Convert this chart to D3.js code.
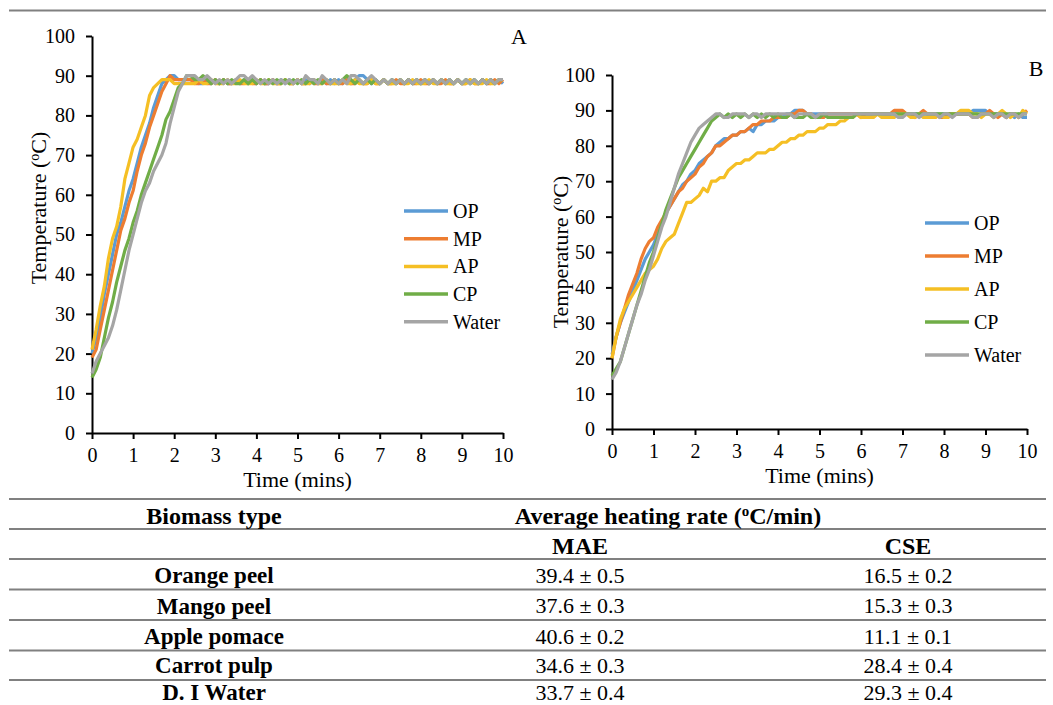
<!DOCTYPE html>
<html>
<head>
<meta charset="utf-8">
<title>Heating profiles MAE / CSE</title>
<script src="https://d3js.org/d3.v7.min.js"></script>
<style>
    body { margin: 0; background: #fff; }
    svg text { font-family: "Liberation Serif", Tinos, "Times New Roman", "Nimbus Roman", "DejaVu Serif", serif; fill: #000; }
</style>
</head>
<body>
<svg width="1053" height="705"></svg>
<script>
// sampling times (mins)
var time = [
    0, 0.1, 0.2, 0.3, 0.4, 0.5, 0.6, 0.7, 0.8, 0.9,
    1, 1.1, 1.2, 1.3, 1.4, 1.5, 1.6, 1.7, 1.8, 1.9,
    2, 2.1, 2.2, 2.3, 2.4, 2.5, 2.6, 2.7, 2.8, 2.9,
    3, 3.1, 3.2, 3.3, 3.4, 3.5, 3.6, 3.7, 3.8, 3.9,
    4, 4.1, 4.2, 4.3, 4.4, 4.5, 4.6, 4.7, 4.8, 4.9,
    5, 5.1, 5.2, 5.3, 5.4, 5.5, 5.6, 5.7, 5.8, 5.9,
    6, 6.1, 6.2, 6.3, 6.4, 6.5, 6.6, 6.7, 6.8, 6.9,
    7, 7.1, 7.2, 7.3, 7.4, 7.5, 7.6, 7.7, 7.8, 7.9,
    8, 8.1, 8.2, 8.3, 8.4, 8.5, 8.6, 8.7, 8.8, 8.9,
    9, 9.1, 9.2, 9.3, 9.4, 9.5, 9.6, 9.7, 9.8, 9.9,
    10];

var seriesNames = ["OP", "MP", "AP", "CP", "Water"];
var seriesColors = ["#5b9bd5", "#ed7d31", "#f5bf24", "#70ad47", "#a5a5a5"];

// panel A (MAE) temperatures, one row per minute
var opA = [20, 24, 29, 35, 40, 45, 50, 53, 57, 61,
    64, 68, 72, 75, 78, 82, 85, 88, 89, 90,
    90, 89, 89, 89, 89, 89, 88, 88, 89, 88,
    89, 88, 89, 88, 88, 89, 88, 89, 88, 89,
    88, 89, 88, 88, 89, 88, 89, 88, 89, 88,
    89, 88, 89, 88, 89, 88, 89, 88, 89, 88,
    89, 88, 89, 88, 89, 90, 90, 89, 88, 89,
    88, 89, 88, 89, 88, 89, 88, 89, 88, 89,
    88, 89, 88, 89, 88, 89, 88, 89, 88, 89,
    88, 89, 88, 89, 88, 89, 88, 89, 88, 89,
    88];
var mpA = [19, 21, 26, 31, 36, 41, 46, 51, 54, 58,
    61, 66, 70, 73, 77, 80, 83, 86, 88, 90,
    89, 89, 89, 89, 89, 88, 88, 89, 88, 88,
    89, 88, 89, 88, 88, 89, 88, 88, 89, 88,
    88, 89, 88, 88, 89, 88, 88, 89, 88, 88,
    89, 88, 88, 89, 88, 88, 89, 88, 88, 89,
    88, 88, 89, 88, 88, 89, 88, 88, 89, 88,
    88, 89, 88, 88, 89, 88, 88, 89, 88, 88,
    89, 88, 88, 89, 88, 88, 89, 88, 88, 89,
    88, 88, 89, 88, 88, 89, 88, 88, 89, 88,
    89];
var apA = [21, 26, 32, 37, 44, 49, 52, 57, 64, 68,
    72, 74, 77, 80, 85, 87, 88, 89, 89, 89,
    88, 88, 88, 88, 88, 88, 89, 88, 88, 89,
    88, 88, 88, 89, 88, 88, 89, 88, 88, 88,
    89, 88, 88, 89, 88, 88, 88, 89, 88, 88,
    89, 88, 88, 88, 89, 88, 88, 89, 88, 88,
    88, 89, 88, 88, 89, 88, 88, 88, 89, 88,
    88, 89, 88, 88, 88, 89, 88, 88, 89, 88,
    88, 88, 89, 88, 88, 89, 88, 88, 88, 89,
    88, 88, 89, 88, 88, 88, 89, 88, 88, 89,
    89];
var cpA = [14, 16, 19, 24, 29, 33, 38, 42, 46, 49,
    53, 56, 60, 63, 66, 69, 72, 75, 79, 81,
    84, 87, 88, 90, 90, 89, 89, 90, 89, 88,
    89, 88, 89, 88, 89, 88, 88, 89, 88, 89,
    88, 89, 88, 89, 88, 89, 88, 89, 88, 89,
    88, 89, 88, 89, 88, 89, 88, 89, 88, 89,
    88, 89, 90, 89, 88, 89, 88, 89, 88, 89,
    88, 89, 88, 89, 88, 89, 88, 89, 88, 89,
    88, 89, 88, 89, 88, 89, 88, 89, 88, 89,
    88, 89, 88, 89, 88, 89, 88, 89, 88, 89,
    89];
var waterA = [15, 18, 20, 22, 24, 27, 31, 36, 41, 46,
    50, 54, 58, 61, 63, 66, 68, 70, 73, 78,
    82, 86, 88, 90, 90, 90, 89, 89, 90, 89,
    88, 89, 88, 89, 88, 89, 90, 90, 89, 90,
    89, 88, 89, 88, 89, 88, 89, 88, 89, 88,
    89, 88, 90, 89, 89, 88, 90, 89, 88, 89,
    88, 89, 88, 90, 90, 89, 88, 89, 90, 89,
    88, 89, 88, 89, 88, 89, 88, 89, 88, 89,
    88, 89, 88, 89, 88, 89, 88, 89, 88, 89,
    88, 89, 88, 89, 88, 89, 88, 89, 88, 89,
    89];

// panel B (CSE) temperatures
var opB = [21, 26, 30, 33, 36, 39, 42, 45, 48, 50,
    52, 55, 58, 61, 63, 65, 67, 69, 70, 72,
    73, 75, 76, 77, 78, 80, 81, 82, 82, 83,
    83, 84, 84, 85, 84, 86, 86, 87, 87, 87,
    88, 88, 89, 89, 90, 90, 90, 89, 89, 89,
    89, 89, 89, 89, 89, 89, 89, 89, 89, 89,
    89, 89, 89, 89, 89, 89, 89, 89, 89, 89,
    89, 89, 89, 89, 89, 89, 89, 89, 89, 89,
    89, 89, 89, 89, 89, 89, 89, 90, 90, 90,
    90, 89, 89, 89, 89, 88, 89, 88, 89, 88,
    88];
var mpB = [20, 26, 30, 34, 38, 41, 44, 48, 51, 53,
    54, 57, 59, 61, 63, 65, 67, 68, 70, 71,
    72, 74, 75, 77, 78, 80, 80, 81, 82, 83,
    83, 84, 84, 85, 86, 86, 87, 87, 87, 88,
    88, 88, 88, 89, 89, 90, 90, 89, 89, 88,
    88, 88, 89, 89, 89, 89, 89, 89, 89, 89,
    88, 89, 89, 89, 89, 89, 89, 89, 90, 90,
    90, 89, 89, 88, 89, 90, 89, 89, 89, 88,
    88, 89, 89, 89, 89, 89, 89, 88, 88, 89,
    89, 90, 89, 88, 89, 88, 89, 89, 88, 89,
    90];
var apB = [20, 26, 31, 34, 36, 38, 40, 42, 44, 45,
    46, 48, 51, 53, 54, 55, 58, 61, 64, 64,
    65, 66, 68, 67, 70, 70, 71, 71, 73, 74,
    75, 75, 76, 76, 77, 78, 78, 78, 79, 79,
    80, 81, 81, 82, 82, 83, 83, 84, 84, 84,
    85, 85, 86, 86, 86, 87, 87, 88, 88, 89,
    88, 88, 88, 88, 89, 88, 88, 88, 88, 89,
    89, 89, 88, 88, 89, 88, 88, 88, 88, 89,
    88, 88, 89, 89, 90, 90, 90, 89, 89, 88,
    89, 89, 88, 89, 90, 89, 88, 89, 88, 90,
    89];
var cpB = [15, 17, 19, 23, 27, 31, 35, 39, 43, 47,
    50, 54, 58, 62, 65, 68, 71, 73, 75, 77,
    79, 81, 83, 85, 87, 88, 89, 88, 89, 88,
    89, 88, 89, 88, 89, 88, 89, 88, 89, 88,
    89, 88, 88, 89, 88, 88, 88, 89, 88, 88,
    88, 89, 88, 88, 88, 88, 88, 88, 88, 89,
    89, 89, 89, 89, 89, 89, 89, 89, 89, 89,
    89, 89, 89, 89, 89, 89, 89, 89, 89, 89,
    89, 89, 89, 89, 89, 89, 89, 89, 89, 89,
    89, 89, 89, 89, 89, 89, 89, 89, 89, 89,
    89];
var waterB = [14, 16, 19, 23, 27, 31, 35, 38, 42, 45,
    49, 53, 57, 60, 64, 68, 72, 75, 78, 81,
    83, 85, 86, 87, 88, 89, 89, 88, 88, 89,
    89, 89, 89, 88, 89, 89, 88, 89, 89, 89,
    89, 89, 89, 89, 88, 89, 89, 89, 89, 88,
    89, 89, 89, 89, 89, 89, 89, 89, 89, 89,
    89, 89, 89, 89, 89, 89, 89, 89, 89, 88,
    88, 89, 89, 89, 88, 89, 89, 89, 89, 88,
    89, 89, 88, 89, 89, 89, 89, 88, 88, 89,
    89, 89, 88, 89, 89, 88, 89, 89, 88, 89,
    89];

var xTicks = [0, 1, 2, 3, 4, 5, 6, 7, 8, 9, 10];
var yTicks = [0, 10, 20, 30, 40, 50, 60, 70, 80, 90, 100];

// table under the charts
var biomass = ["Orange peel", "Mango peel", "Apple pomace", "Carrot pulp", "D. I Water"];
var maeRate = ["39.4 ± 0.5", "37.6 ± 0.3", "40.6 ± 0.2", "34.6 ± 0.3", "33.7 ± 0.4"];
var cseRate = ["16.5 ± 0.2", "15.3 ± 0.3", "11.1 ± 0.1", "28.4 ± 0.4", "29.3 ± 0.4"];

var serif = '"Liberation Serif", Tinos, "Times New Roman", "Nimbus Roman", "DejaVu Serif", serif';
var svg = d3.select("svg");

function tempLabel(sel) {
    sel.append("tspan").text("Temperature (");
    sel.append("tspan").text("o").attr("font-size", 14).attr("baseline-shift", "super");
    sel.append("tspan").text("C)");
}

function drawPanel(p) {
    var x = d3.scaleLinear().domain([0, 10]).range([p.left, p.right]);
    var y = d3.scaleLinear().domain([0, 100]).range([p.bottom, p.top]);
    var g = svg.append("g");

    var ax = g.append("g")
        .attr("transform", "translate(0," + p.bottom + ")")
        .call(d3.axisBottom(x).tickValues(xTicks).tickSize(6).tickSizeOuter(0).tickPadding(9));
    var ay = g.append("g")
        .attr("transform", "translate(" + p.left + ",0)")
        .call(d3.axisLeft(y).tickValues(yTicks).tickSize(6).tickSizeOuter(0).tickPadding(11));
    [ax, ay].forEach(function (a) {
        a.attr("font-family", serif);
        a.selectAll("path, line").attr("stroke", "#000").attr("stroke-width", 2);
        a.selectAll("text").attr("font-size", 20);
    });

    var line = d3.line()
        .x(function (d, i) { return x(time[i]); })
        .y(function (d) { return y(d); });

    p.series.forEach(function (s, i) {
        g.append("path")
            .datum(s)
            .attr("fill", "none")
            .attr("stroke", seriesColors[i])
            .attr("stroke-width", 3.2)
            .attr("stroke-linejoin", "round")
            .attr("d", line);
    });

    // legend
    seriesNames.forEach(function (n, i) {
        var ly = p.legY + i * p.legStep;
        g.append("line")
            .attr("x1", p.legX).attr("x2", p.legX + 44)
            .attr("y1", ly).attr("y2", ly)
            .attr("stroke", seriesColors[i]).attr("stroke-width", 3.5);
        g.append("text")
            .attr("x", p.legX + 49).attr("y", ly)
            .attr("dy", "0.35em")
            .attr("font-size", 20)
            .text(n);
    });

    g.append("text")
        .attr("transform", "translate(" + p.yTitleX + "," + p.yTitleY + ") rotate(-90)")
        .attr("text-anchor", "middle")
        .attr("dy", "0.35em")
        .attr("font-size", 22)
        .call(tempLabel);

    g.append("text")
        .attr("x", (p.left + p.right) / 2)
        .attr("y", p.bottom + 54)
        .attr("text-anchor", "middle")
        .attr("font-size", 22)
        .text("Time (mins)");

    g.append("text")
        .attr("x", p.tagX).attr("y", p.tagY)
        .attr("text-anchor", "middle")
        .attr("dy", "0.35em")
        .attr("font-size", 22)
        .text(p.tag);
}

drawPanel({
    left: 92, right: 503, top: 36, bottom: 433,
    series: [opA, mpA, apA, cpA, waterA],
    legX: 404, legY: 211, legStep: 27.7,
    yTitleX: 38, yTitleY: 208,
    tag: "A", tagX: 519, tagY: 36
});

drawPanel({
    left: 612, right: 1027, top: 75, bottom: 429,
    series: [opB, mpB, apB, cpB, waterB],
    legX: 925, legY: 223, legStep: 33,
    yTitleX: 560, yTitleY: 252,
    tag: "B", tagX: 1036, tagY: 68
});

// horizontal rules: frame + table
var rules = [10.5, 499, 529, 559, 589.5, 620, 650.5, 680];
svg.selectAll(".rule")
    .data(rules)
    .enter()
    .append("line")
    .attr("class", "rule")
    .attr("x1", 9).attr("x2", 1046)
    .attr("y1", function (d) { return d; })
    .attr("y2", function (d) { return d; })
    .attr("stroke", "#808080")
    .attr("stroke-width", 2);

var colX = [214, 580, 908];

svg.append("text")
    .attr("x", colX[0]).attr("y", 516).attr("dy", "0.35em")
    .attr("text-anchor", "middle").attr("font-size", 24).attr("font-weight", "bold")
    .text("Biomass type");

var head = svg.append("text")
    .attr("x", 668).attr("y", 516).attr("dy", "0.35em")
    .attr("text-anchor", "middle").attr("font-size", 24).attr("font-weight", "bold");
head.append("tspan").text("Average heating rate (");
head.append("tspan").text("o").attr("font-size", 15).attr("baseline-shift", "super");
head.append("tspan").text("C/min)");

["MAE", "CSE"].forEach(function (t, i) {
    svg.append("text")
        .attr("x", colX[i + 1]).attr("y", 546).attr("dy", "0.35em")
        .attr("text-anchor", "middle").attr("font-size", 24).attr("font-weight", "bold")
        .text(t);
});

var rowY = [575, 605.5, 636, 665, 692];
biomass.forEach(function (b, i) {
    svg.append("text")
        .attr("x", colX[0]).attr("y", rowY[i]).attr("dy", "0.35em")
        .attr("text-anchor", "middle").attr("font-size", 23).attr("font-weight", "bold")
        .text(b);
    svg.append("text")
        .attr("x", colX[1]).attr("y", rowY[i]).attr("dy", "0.35em")
        .attr("text-anchor", "middle").attr("font-size", 22)
        .text(maeRate[i]);
    svg.append("text")
        .attr("x", colX[2]).attr("y", rowY[i]).attr("dy", "0.35em")
        .attr("text-anchor", "middle").attr("font-size", 22)
        .text(cseRate[i]);
});
</script>
</body>
</html>
